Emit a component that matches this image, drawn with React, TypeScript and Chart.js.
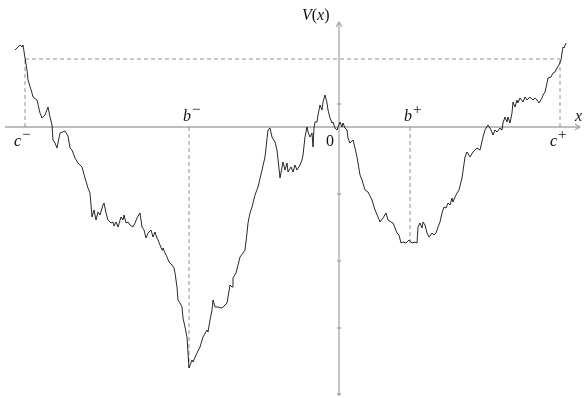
import React, { useEffect, useRef } from "react";
import { Chart, registerables } from "chart.js";

Chart.register(...registerables);

// Sample path of V(x): x positions and values (same units on both axes, origin at 0)
const xs = [
  -324, -319, -317, -316, -314, -312, -311, -307, -306, -302, -299, -297, -294, -291, -289, -287, -286, -284, -282, -279,
  -274, -271, -269, -267, -264, -261, -257, -254, -251,
  -249, -247, -245, -243, -241, -239, -236, -235, -233, -231, -228, -226, -225, -223, -221, -218, -216, -215, -213, -211,
  -209, -206, -204, -202, -199, -197, -195, -193, -191, -188, -186, -184, -182, -181, -179, -177, -176, -174, -172, -170,
  -167, -165,
  -164, -162, -161, -159, -157, -156, -154, -152, -151, -150, -147, -146, -142, -139, -136, -132, -131, -129, -127, -126,
  -124, -121, -117, -114, -112, -111, -109, -107, -106, -103, -101, -99, -96, -94, -92, -91, -89, -87, -84, -81,
  -77, -74, -71, -69, -67, -64, -62,
  -59, -56, -54, -52, -51, -48, -46, -44, -42, -39, -37, -36, -34, -32, -31, -29, -27, -26, -25, -24,
  -22, -21, -19, -17, -16, -14, -12, -11, -9, -7, -6, -4, -2, -1, 1, 3, 4, 6, 8, 9,
  11, 14, 16, 18, 21,
  23, 26, 29, 33, 36, 39,
  41, 44, 47, 49, 52, 54, 56, 58, 60, 62, 64, 67, 70, 73, 76, 78, 79, 81, 83, 84,
  86, 88, 90, 93, 95, 97, 99, 101, 103, 105, 107, 109, 111, 113, 114, 116, 118, 120,
  123, 126, 128, 131, 134, 138, 141, 144,
  146, 149, 152, 154, 156, 158, 161, 163, 164, 166, 168, 169, 171, 173, 174, 176, 178, 179, 181, 184,
  186, 188, 191, 194, 196, 198, 200, 203, 204, 206, 208, 209, 212, 214, 216, 218, 220, 222, 223, 224,
  225, 227,
];
const vs = [
  77, 82, 80, 82, 69, 57, 47, 34, 30, 27, 14, 9, 12, 20, 10, 2, -13, -16, -21, -6,
  -4, -9, -21, -23, -31, -36, -40, -51, -61,
  -66, -90, -83, -93, -85, -88, -78, -76, -86, -93, -96, -95, -99, -95, -100, -90, -93, -88, -96, -95,
  -98, -100, -96, -91, -86, -100, -103, -111, -106, -103, -110, -105, -111, -113, -118, -123, -121, -126, -130, -135,
  -138, -141,
  -146, -160, -173, -176, -180, -191, -200, -210, -226, -241, -233, -235, -226, -220, -210, -203, -205, -193, -183, -173,
  -180, -180, -181, -178, -176, -170, -158, -160, -151, -146, -138, -130, -126, -123, -106, -96, -86, -80, -68, -60,
  -43, -30, -3, -1, -10, -15, -23,
  -51, -35, -43, -36, -45, -40, -45, -38, -43, -38, -33, -28, -10, 0, -5, -10, -6, -20, -1, 5,
  5, 12, 22, 17, 25, 32, 24, 17, 9, 4, 5, -1, -3, 0, 5, 0, 4, -1, -3, -11,
  -16, -13, -21, -30, -48,
  -53, -63, -65, -73, -83, -90,
  -95, -91, -86, -93, -95, -96, -101, -106, -108, -116, -115, -116, -113, -116, -115, -116, -100, -96, -101, -95,
  -98, -106, -110, -106, -108, -106, -100, -95, -86, -80, -81, -76, -78, -71, -75, -70, -66, -63,
  -51, -30, -25, -30, -25, -21, -23, -10,
  -3, 2, -3, -8, -3, -5, -1, -3, 4, 10, 5, 10, 4, 14, 25, 20, 27, 24, 29, 25,
  30, 27, 30, 27, 29, 27, 24, 29, 32, 35, 44, 49, 50, 54, 55, 59, 62, 67, 74, 80,
  79, 84,
];

// Marked points on the x axis and the dashed level
const markNames = ["c", "b", "b", "c"];
const markSigns = ["\u2212", "\u2212", "+", "+"];
const markXs = [-314, -150, 71, 221];
const markVs = [68, -241, -116, 68];
const level = 68;
const yTicks = [23, -67, -134, -201, -267];

// View window and axis extents
const viewX = [-339, 247];
const viewY = [-271, 127];
const xAxisSpan = [-334, 241];
const yAxisSpan = [-269, 105];

const SERIF = "'Liberation Serif', 'DejaVu Serif', serif";

const axesPlugin = {
  id: "customAxes",
  beforeDatasetsDraw(chart: any) {
    const { ctx } = chart;
    const sx = chart.scales.x;
    const sy = chart.scales.y;
    const x0 = sx.getPixelForValue(0);
    const y0 = sy.getPixelForValue(0);
    ctx.save();
    ctx.strokeStyle = "#a8a8a8";
    ctx.lineWidth = 1.3;
    const xl = sx.getPixelForValue(xAxisSpan[0]);
    const xr = sx.getPixelForValue(xAxisSpan[1]);
    ctx.beginPath();
    ctx.moveTo(xl, y0);
    ctx.lineTo(xr, y0);
    ctx.moveTo(xr - 5, y0 - 3);
    ctx.lineTo(xr, y0);
    ctx.lineTo(xr - 5, y0 + 3);
    const yb = sy.getPixelForValue(yAxisSpan[0]);
    const yt = sy.getPixelForValue(yAxisSpan[1]);
    ctx.moveTo(x0, yb);
    ctx.lineTo(x0, yt);
    ctx.moveTo(x0 - 3, yt + 5);
    ctx.lineTo(x0, yt);
    ctx.lineTo(x0 + 3, yt + 5);
    for (const t of yTicks) {
      const p = sy.getPixelForValue(t);
      ctx.moveTo(x0 - 2, p);
      ctx.lineTo(x0 + 2, p);
    }
    ctx.stroke();
    ctx.restore();
  },
  afterDatasetsDraw(chart: any) {
    const { ctx } = chart;
    const sx = chart.scales.x;
    const sy = chart.scales.y;
    const x0 = sx.getPixelForValue(0);
    const y0 = sy.getPixelForValue(0);
    ctx.save();
    ctx.fillStyle = "#111";
    ctx.textBaseline = "alphabetic";
    const it = `italic 16px ${SERIF}`;
    const up = `16px ${SERIF}`;
    const sup = `15px ${SERIF}`;
    const drawParts = (parts: [string, string][], x: number, y: number) => {
      let cx = x;
      for (const [f, t] of parts) {
        ctx.font = f;
        ctx.fillText(t, cx, y);
        cx += ctx.measureText(t).width;
      }
    };
    // V(x)
    drawParts([[it, "V"], [up, "("], [it, "x"], [up, ")"]], x0 - 37, 20);
    // x label
    drawParts([[it, "x"]], sx.getPixelForValue(xAxisSpan[1]) - 5, y0 - 6);
    // 0
    drawParts([[up, "0"]], x0 - 13, y0 + 19);
    // marks
    markXs.forEach((mx, i) => {
      const px = sx.getPixelForValue(mx);
      const below = markNames[i] === "c";
      const by = below ? y0 + 19 : y0 - 6;
      ctx.font = it;
      const w = ctx.measureText(markNames[i]).width;
      const bx = below ? (i === 0 ? px - 11 : px - 10) : px - 6;
      drawParts([[it, markNames[i]]], bx, by);
      drawParts([[sup, markSigns[i]]], bx + w + 1, by - 7);
    });
    ctx.restore();
  },
};

export default function App() {
  const ref = useRef<HTMLCanvasElement | null>(null);
  useEffect(() => {
    if (!ref.current) return;
    const dash = {
      borderColor: "#777",
      borderWidth: 0.8,
      borderDash: [4, 3],
      pointRadius: 0,
      fill: false,
      tension: 0,
    };
    const datasets: any[] = [
      {
        data: xs.map((x, i) => ({ x, y: vs[i] })),
        borderColor: "#111",
        borderWidth: 0.9,
        pointRadius: 0,
        tension: 0,
        fill: false,
      },
      { ...dash, data: [{ x: markXs[0], y: level }, { x: markXs[3], y: level }] },
    ];
    markXs.forEach((mx, i) => {
      datasets.push({ ...dash, data: [{ x: mx, y: 0 }, { x: mx, y: markVs[i] }] });
    });
    const chart = new Chart(ref.current, {
      type: "line",
      data: { datasets },
      plugins: [axesPlugin],
      options: {
        responsive: false,
        animation: false,
        layout: { padding: 0 },
        plugins: { legend: { display: false }, tooltip: { enabled: false } },
        scales: {
          x: { type: "linear", display: false, min: viewX[0], max: viewX[1] },
          y: { type: "linear", display: false, min: viewY[0], max: viewY[1] },
        },
      },
    } as any);
    return () => chart.destroy();
  }, []);
  return (
    <div style={{ position: "fixed", left: 0, top: 0, width: 586, height: 398, background: "#fff" }}>
      <canvas ref={ref} width={586} height={398} />
    </div>
  );
}
